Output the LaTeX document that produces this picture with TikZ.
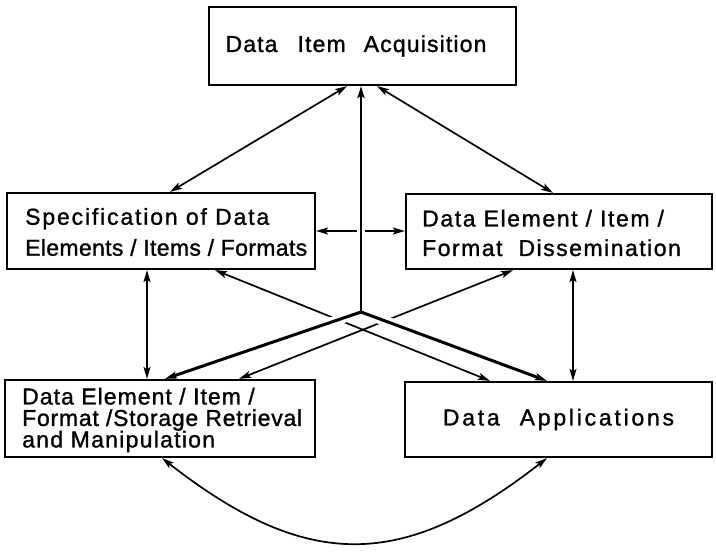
\documentclass[tikz,border=0pt]{standalone}
\usepackage{fontspec}
\setmainfont{Liberation Sans}[FakeBold=1.2]
\usetikzlibrary{arrows.meta,calc}
\newcommand\LS[2]{{\addfontfeatures{LetterSpace=#1}#2}}
\begin{document}
\begin{tikzpicture}[x=1pt,y=-1pt,
  box/.style={draw,line width=2.2pt,inner sep=0pt},
  lbl/.style={inner sep=0pt,align=left,anchor=west},
  conn/.style={line width=1.7pt},
  heavy/.style={line width=3pt},
  medium/.style={line width=2.4pt},
  halo/.style={draw=white},
  tip/.tip={Stealth[length=12pt,width=7pt,inset=2.5pt]},
  arr/.style={-tip},
  dbl/.style={tip-tip}]
\useasboundingbox (0,0) rectangle (716,552);
\fill[white] (0,0) rectangle (716,552);

% boxes
\node[box,minimum width=307pt,minimum height=78pt,font=\fontsize{23pt}{23pt}\selectfont] (acq) at (362.5,46)
  {\LS{5}{Data\hspace{20pt}Item\hspace{18pt}Acquisition}\hspace*{13pt}};
\node[box,minimum width=308pt,minimum height=76pt] (spec) at (161,231) {};
\node[box,minimum width=306pt,minimum height=75pt] (diss) at (559,231.5) {};
\node[box,minimum width=310pt,minimum height=77pt] (stor) at (160,418.5) {};
\node[box,minimum width=307pt,minimum height=75pt,font=\fontsize{23pt}{23pt}\selectfont] (app) at (558.5,419.5)
  {\LS{12}{Data\hspace{20pt}Applications}};

% box texts
\node[lbl,font=\fontsize{23pt}{31pt}\selectfont] (specT) at (25,232)
  {\LS{8}{Specification of Data}\\\LS{1.5}{Elements / Items / Formats}};
\node[lbl,font=\fontsize{23pt}{29.5pt}\selectfont] (dissT) at (422,233)
  {\LS{7}{Data Element / Item /}\\\LS{6.5}{Format\hspace{16pt}Dissemination}};
\node[lbl,font=\fontsize{23pt}{21.5pt}\selectfont] (storT) at (22,420)
  {\LS{4.5}{Data Element / Item /}\\\LS{3.3}{Format /Storage Retrieval}\\\LS{5.5}{and Manipulation}};

\coordinate (hub) at (361,312);
\coordinate (hs) at ([xshift=5pt]stor.north);
\coordinate (ha) at ([xshift=-11.5pt]app.north);
\coordinate (ht) at (hub |- acq.south);

% crossing thin connectors
\draw[conn,dbl] ([xshift=54pt]spec.south) -- ([xshift=-68.5pt]app.north);
\draw[conn,dbl] ([xshift=-46pt]diss.south) -- ([xshift=79pt]stor.north);
% horizontal connector
\draw[conn,dbl] (spec.east) -- (spec.east -| diss.west);

% white gaps where lines pass over
\draw[halo,line width=10pt,shorten <=8pt,shorten >=40pt] (hub) -- (hs);
\draw[halo,line width=10pt,shorten <=8pt,shorten >=40pt] (hub) -- (ha);
\draw[halo,line width=8pt,shorten <=30pt,shorten >=30pt] (hub) -- (ht);

% heavy connectors from the hub
\draw[heavy,arr] (hub) -- (hs);
\draw[heavy,arr] (hub) -- (ha);
\draw[medium,arr] (hub) -- (ht);

% top diagonals
\draw[conn,dbl] ([xshift=-15.5pt]acq.south) -- ([xshift=9pt]spec.north);
\draw[conn,dbl] ([xshift=14.5pt]acq.south) -- ([xshift=-6pt]diss.north);

% side verticals
\draw[conn,dbl] ([xshift=-14pt]spec.south) -- ([xshift=-14pt]spec.south |- stor.north);
\draw[conn,dbl] ([xshift=14pt]diss.south) -- ([xshift=14pt]diss.south |- app.north);

% bottom arc
\coordinate (s1) at ([xshift=2pt]stor.south);
\coordinate (s2) at ([xshift=-11.5pt]app.south);
\draw[conn,dbl] (s1) .. controls ($(s1)+(145,113)$) and ($(s2)+(-145,113)$) .. (s2);
\end{tikzpicture}
\end{document}
